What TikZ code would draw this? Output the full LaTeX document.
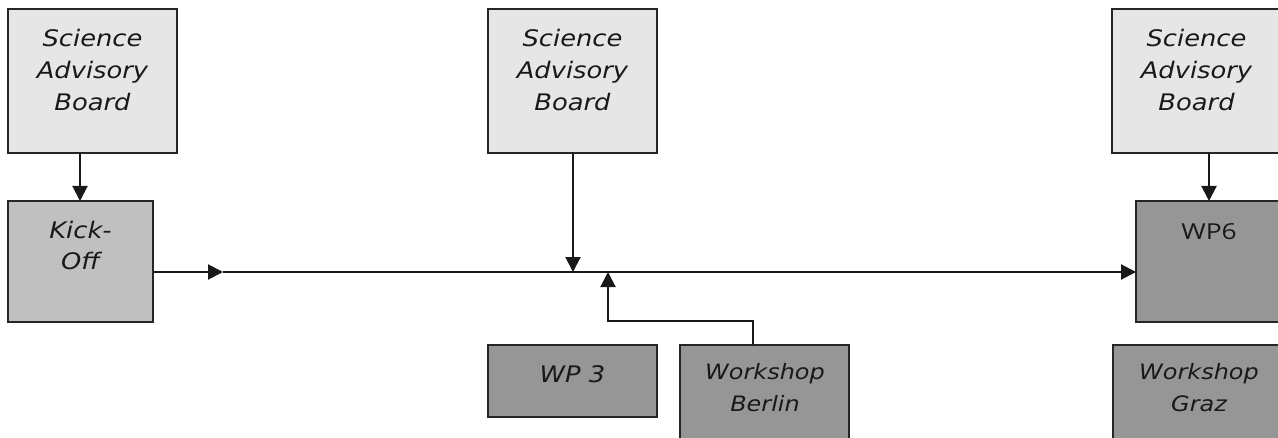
\documentclass[tikz,border=0pt]{standalone}
\usepackage{fontspec}
\usetikzlibrary{arrows.meta}
\newfontfamily\boxfont[FakeStretch=1.13]{DejaVu Sans}
\newfontfamily\wpfont[FakeStretch=1.2]{Open Sans}
\definecolor{sabfill}{HTML}{E6E6E6}
\definecolor{kofill}{HTML}{C0C0C0}
\definecolor{wpfill}{HTML}{969696}
\tikzset{
  boxbase/.style={draw=black!85, line width=1pt, inner sep=0pt},
  txt/.style={anchor=base, inner sep=0pt, text=black!90},
  conn/.style={line width=1pt, black!90},
  tip/.style={-{Triangle[length=7.5pt,width=7.5pt]}},
}
\newcommand{\bt}[2][11.4]{\parbox[t]{100pt}{\centering\boxfont\itshape\fontsize{#1}{16}\selectfont #2}}
\begin{document}
\begin{tikzpicture}[x=0.5pt,y=-0.5pt]
\clip (0,0) rectangle (1278,438);
\fill[white] (0,0) rectangle (1278,438);
% boxes
\draw[boxbase, fill=sabfill] (8,9) rectangle (177,153);
\coordinate (s1s) at (80,153);
\draw[boxbase, fill=sabfill] (488,9) rectangle (657,153);
\coordinate (s2s) at (573,153);
\draw[boxbase, fill=sabfill] (1112,9) rectangle (1281,153);
\coordinate (s3s) at (1209,153);
\draw[boxbase, fill=kofill] (8,201) rectangle (153,322);
\coordinate (kon) at (80,201);
\coordinate (koe) at (153,272);
\draw[boxbase, fill=wpfill] (1136,201) rectangle (1282,322);
\coordinate (wp6n) at (1209,201);
\coordinate (wp6w) at (1136,272);
\draw[boxbase, fill=wpfill] (488,345) rectangle (657,417);
\draw[boxbase, fill=wpfill] (680,345) rectangle (849,470);
\coordinate (bern) at (753,345);
\draw[boxbase, fill=wpfill] (1113,345) rectangle (1282,470);
% texts
\node[txt] (t1) at (92.5,47) {\bt{Science\\Advisory\\Board}};
\node[txt] (t2) at (572.5,47) {\bt{Science\\Advisory\\Board}};
\node[txt] (t3) at (1196.5,47) {\bt{Science\\Advisory\\Board}};
\node[txt] (t4) at (80.5,238) {\bt{Kick-\\Off}};
\node[txt] (t5) at (1209,240) {\wpfont\fontsize{11}{16}\selectfont WP6};
\node[txt] (t6) at (572.5,382) {\bt{WP 3}};
\node[txt] (t7) at (765,379) {\bt[10.6]{Workshop\\Berlin}};
\node[txt] (t8) at (1199,379) {\bt[10.6]{Workshop\\Graz}};
% connectors
\coordinate (m1) at (223,272);
\coordinate (m2) at (573,272);
\coordinate (m3) at (608,272);
\draw[conn, tip] (s1s) -- (kon);
\draw[conn, tip] (s3s) -- (wp6n);
\draw[conn, tip] (s2s) -- (m2);
\draw[conn, tip] (koe) -- (m1);
\draw[conn, tip] (m1) -- (wp6w);
\draw[conn, tip] (bern) -- (753,321) -- (608,321) -- (m3);
\end{tikzpicture}
\end{document}
